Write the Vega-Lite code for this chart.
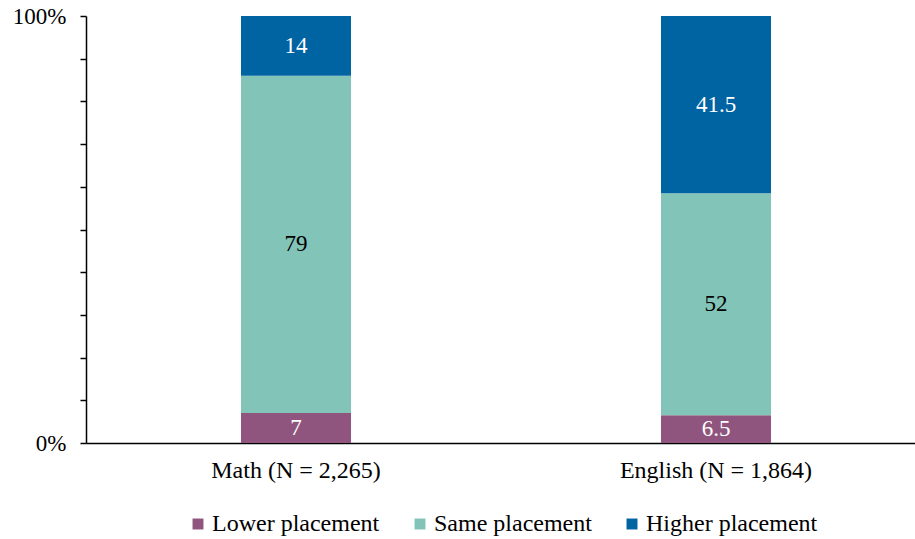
{
  "$schema": "https://vega.github.io/schema/vega-lite/v6.json",
  "autosize": "none",
  "padding": {"left": 86, "top": 16, "right": 0, "bottom": 96},
  "width": 840,
  "height": 427,
  "background": "white",
  "config": {
    "font": "Liberation Serif",
    "view": {"stroke": null}
  },
  "data": {
    "values": [
      {"subject": "Math (N = 2,265)", "placement": "Lower placement", "ord": 1, "pct": 7, "label": "7"},
      {"subject": "Math (N = 2,265)", "placement": "Same placement", "ord": 2, "pct": 79, "label": "79"},
      {"subject": "Math (N = 2,265)", "placement": "Higher placement", "ord": 3, "pct": 14, "label": "14"},
      {"subject": "English (N = 1,864)", "placement": "Lower placement", "ord": 1, "pct": 6.5, "label": "6.5"},
      {"subject": "English (N = 1,864)", "placement": "Same placement", "ord": 2, "pct": 52, "label": "52"},
      {"subject": "English (N = 1,864)", "placement": "Higher placement", "ord": 3, "pct": 41.5, "label": "41.5"}
    ]
  },
  "transform": [
    {"stack": "pct", "groupby": ["subject"], "sort": [{"field": "ord", "order": "ascending"}], "as": ["y0", "y1"]},
    {"calculate": "(datum.y0 + datum.y1) / 2", "as": "ymid"}
  ],
  "encoding": {
    "x": {
      "field": "subject",
      "type": "nominal",
      "sort": ["Math (N = 2,265)", "English (N = 1,864)"],
      "scale": {"paddingInner": 0, "paddingOuter": 0},
      "axis": {
        "title": null,
        "labelAngle": 0,
        "labelFont": "Liberation Serif",
        "labelFontSize": 24,
        "labelLimit": 0,
        "labelColor": "black",
        "labelPadding": 15,
        "ticks": false,
        "domainColor": "black",
        "domainWidth": 1.5
      }
    }
  },
  "layer": [
    {
      "mark": {"type": "bar", "size": 110},
      "encoding": {
        "y": {
          "field": "y0",
          "type": "quantitative",
          "scale": {"domain": [0, 100]},
          "axis": {
            "title": null,
            "values": [0, 10, 20, 30, 40, 50, 60, 70, 80, 90, 100],
            "labelExpr": "datum.value == 0 || datum.value == 100 ? datum.value + '%' : ''",
            "grid": false,
            "labelFont": "Liberation Serif",
            "labelFontSize": 23,
            "labelColor": "black",
            "labelPadding": 14,
            "tickSize": 6,
            "tickColor": "black",
            "tickWidth": 1.5,
            "domainColor": "black",
            "domainWidth": 1.5
          }
        },
        "y2": {"field": "y1"},
        "color": {
          "field": "placement",
          "type": "nominal",
          "sort": ["Lower placement", "Same placement", "Higher placement"],
          "scale": {
            "domain": ["Lower placement", "Same placement", "Higher placement"],
            "range": ["#8F557E", "#82C4B8", "#0063A2"]
          },
          "legend": {
            "title": null,
            "orient": "none",
            "direction": "horizontal",
            "legendX": 100,
            "legendY": 496,
            "symbolType": "square",
            "symbolSize": 120,
            "symbolStrokeWidth": 0,
            "labelFont": "Liberation Serif",
            "labelFontSize": 24,
            "labelLimit": 0,
            "labelColor": "black",
            "labelOffset": 2,
            "columnPadding": 28
          }
        }
      }
    },
    {
      "mark": {"type": "text", "fontSize": 23, "font": "Liberation Serif", "baseline": "middle", "align": "center"},
      "encoding": {
        "y": {"field": "ymid", "type": "quantitative"},
        "text": {"field": "label", "type": "nominal"},
        "color": {
          "condition": {"test": "datum.placement == 'Same placement'", "value": "black"},
          "value": "white"
        }
      }
    }
  ]
}
